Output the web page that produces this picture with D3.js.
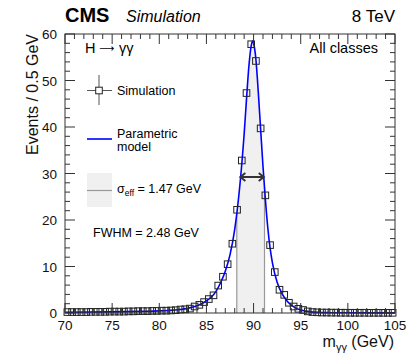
<!DOCTYPE html>
<html><head><meta charset="utf-8">
<script src="https://cdn.jsdelivr.net/npm/d3@7"></script>
<style>
html,body{margin:0;padding:0;background:#fff;}
svg text{font-family:"Liberation Sans",Arial,Helvetica,sans-serif;}
</style></head>
<body><svg id="c" width="407" height="360"></svg>
<script>
// ---------- data ----------
const binCenters = [70.25,70.75,71.25,71.75,72.25,72.75,73.25,73.75,74.25,74.75,
  75.25,75.75,76.25,76.75,77.25,77.75,78.25,78.75,79.25,79.75,
  80.25,80.75,81.25,81.75,82.25,82.75,83.25,83.75,84.25,84.75,
  85.25,85.75,86.25,86.75,87.25,87.75,88.25,88.75,89.25,89.75,
  90.25,90.75,91.25,91.75,92.25,92.75,93.25,93.75,94.25,94.75,
  95.25,95.75,96.25,96.75,97.25,97.75,98.25,98.75,99.25,99.75,
  100.25,100.75,101.25,101.75,102.25,102.75,103.25,103.75,104.25,104.75];
const simEvents = [0.2,0.2,0.2,0.2,0.2,0.25,0.25,0.25,0.25,0.3,
  0.3,0.3,0.3,0.35,0.35,0.4,0.4,0.4,0.45,0.45,
  0.5,0.5,0.55,0.6,0.75,0.8,0.95,1.4,1.75,2.35,
  3.0,3.8,5.9,7.8,10.5,14.9,22.2,32.8,47.3,57.8,
  54.2,39.7,25.3,14.6,8.8,5.0,3.9,2.2,1.4,0.9,
  0.65,0.35,0.2,0.15,0.1,0.1,0.08,0.08,0.06,0.06,
  0.05,0.05,0.05,0.05,0.04,0.04,0.04,0.04,0.04,0.04];
const modelMass =   [70,75,78,80,81,82,83,84,84.5,85,85.5,86,86.5,87,87.5,88,88.5,89,89.25,89.5,89.75,89.9,90.0,90.25,90.5,90.75,91.0,91.25,91.5,91.75,92.0,92.5,93,93.5,94,94.5,95,95.5,96,97,98,100,105];
const modelEvents = [0.15,0.25,0.35,0.45,0.55,0.7,1.0,1.55,2.0,2.6,3.4,4.6,6.5,9.0,12.5,18.0,26.5,38.5,46.0,53.0,57.5,58.5,58.0,54.5,47.5,39.5,31.5,24.5,18.5,14.0,10.8,6.6,4.2,2.7,1.7,1.05,0.65,0.4,0.25,0.12,0.07,0.04,0.02];
const sigmaEffRange = [88.22, 91.16];
const fwhmRange = [88.6, 91.08];
const halfMax = 29.25;
const xTicks = [70,75,80,85,90,95,100,105];
const yTicks = [0,10,20,30,40,50,60];

// ---------- layout ----------
const svg = d3.select("#c");
const L=65, R=395, T=34, B=313;
const x = d3.scaleLinear().domain([70,105]).range([L,R]);
const y = d3.scaleLinear().domain([0,60]).range([B,T]);
const axisCol = "#333";

// sigma_eff band (filled under curve)
const curvePts = modelMass.map((m,i)=>[m,modelEvents[i]]);
const area = d3.area().x(d=>x(d[0])).y0(y(0)).y1(d=>y(d[1])).curve(d3.curveMonotoneX);
const line = d3.line().x(d=>x(d[0])).y(d=>y(d[1])).curve(d3.curveMonotoneX);
svg.append("clipPath").attr("id","under").append("path").attr("d",area(curvePts));
const band = svg.append("g").attr("clip-path","url(#under)");
band.append("rect").attr("x",x(sigmaEffRange[0])).attr("y",T).attr("width",x(sigmaEffRange[1])-x(sigmaEffRange[0])).attr("height",B-T).attr("fill","#f0f0f0");
sigmaEffRange.forEach(v=>band.append("line").attr("x1",x(v)).attr("x2",x(v)).attr("y1",T).attr("y2",B).attr("stroke","#999").attr("stroke-width",1.2));

// model curve
svg.append("path").attr("d",line(curvePts)).attr("fill","none").attr("stroke","#0000ff").attr("stroke-width",1.6);

// FWHM arrow
const ay = y(halfMax), ax1 = x(fwhmRange[0]), ax2 = x(fwhmRange[1]);
const ag = svg.append("g").attr("stroke","#333").attr("stroke-width",2).attr("fill","none");
ag.append("line").attr("x1",ax1).attr("x2",ax2).attr("y1",ay).attr("y2",ay);
ag.append("path").attr("d",`M${ax1+5},${ay-4}L${ax1},${ay}L${ax1+5},${ay+4}`);
ag.append("path").attr("d",`M${ax2-5},${ay-4}L${ax2},${ay}L${ax2-5},${ay+4}`);

// simulation points
svg.append("g").selectAll("rect").data(binCenters).join("rect")
  .attr("x",(d)=>x(d)-3.3).attr("y",(d,i)=>y(simEvents[i])-3.3)
  .attr("width",6.6).attr("height",6.6)
  .attr("fill","none").attr("stroke","#222").attr("stroke-width",1);

// ---------- frame & ticks ----------
const fr = svg.append("g").attr("stroke",axisCol).attr("stroke-width",1);
fr.append("rect").attr("x",L).attr("y",T).attr("width",R-L).attr("height",B-T).attr("fill","none");
const xMinor = d3.range(70,106,1), yMinor = d3.range(0,61,2);
xMinor.forEach(v=>{
  const major = xTicks.includes(v), len = major?10:5;
  fr.append("line").attr("x1",x(v)).attr("x2",x(v)).attr("y1",B).attr("y2",B-len);
  fr.append("line").attr("x1",x(v)).attr("x2",x(v)).attr("y1",T).attr("y2",T+len);
});
yMinor.forEach(v=>{
  const major = yTicks.includes(v), len = major?10:5;
  fr.append("line").attr("x1",L).attr("x2",L+len).attr("y1",y(v)).attr("y2",y(v));
  fr.append("line").attr("x1",R).attr("x2",R-len).attr("y1",y(v)).attr("y2",y(v));
});

// tick labels
svg.append("g").selectAll("text").data(xTicks).join("text")
  .attr("x",d=>x(d)).attr("y",330).attr("text-anchor","middle").attr("font-size",13.5).attr("fill","#111").text(d=>d);
svg.append("g").selectAll("text").data(yTicks).join("text")
  .attr("x",57).attr("y",d=>y(d)+5).attr("text-anchor","end").attr("font-size",13.5).attr("fill","#111").text(d=>d);

// axis titles
svg.append("text").attr("transform",`translate(38,${T}) rotate(-90)`).attr("text-anchor","end").attr("font-size",16).attr("fill","#111").text("Events / 0.5 GeV");
const xt = svg.append("text").attr("x",394).attr("y",347).attr("text-anchor","end").attr("font-size",16).attr("fill","#111");
xt.append("tspan").text("m");
xt.append("tspan").attr("font-size",11).attr("dy",4).text("γγ");
xt.append("tspan").attr("dy",-4).text("\u00a0(GeV)");

// header
svg.append("text").attr("x",65).attr("y",22).attr("font-size",20).attr("font-weight","bold").attr("fill","#000").text("CMS");
svg.append("text").attr("x",126).attr("y",22).attr("font-size",16).attr("font-style","italic").attr("fill","#000").text("Simulation");
svg.append("text").attr("x",395).attr("y",22).attr("text-anchor","end").attr("font-size",17).attr("fill","#000").text("8 TeV");

// in-plot labels
svg.append("text").attr("x",85).attr("y",53).attr("font-size",14.5).attr("fill","#000").text("H");
svg.append("text").attr("x",99).attr("y",51.5).attr("font-size",10.5).attr("fill","#000").style("font-family","'DejaVu Sans'").text("⟶");
svg.append("text").attr("x",119).attr("y",53).attr("font-size",14.5).attr("fill","#000").text("γγ");
svg.append("text").attr("x",378).attr("y",53).attr("text-anchor","end").attr("font-size",14.5).attr("fill","#000").text("All classes");

// legend
const lg = svg.append("g");
lg.append("line").attr("x1",99).attr("x2",99).attr("y1",75).attr("y2",105).attr("stroke","#555");
lg.append("line").attr("x1",87).attr("x2",112).attr("y1",90.5).attr("y2",90.5).attr("stroke","#555");
lg.append("rect").attr("x",95.7).attr("y",87.2).attr("width",6.6).attr("height",6.6).attr("fill","#fff").attr("stroke","#222");
lg.append("text").attr("x",117).attr("y",95).attr("font-size",12.5).text("Simulation");
lg.append("line").attr("x1",87).attr("x2",112).attr("y1",139).attr("y2",139).attr("stroke","#0000ff").attr("stroke-width",1.6);
lg.append("text").attr("x",117).attr("y",138).attr("font-size",12.5).text("Parametric");
lg.append("text").attr("x",117).attr("y",151).attr("font-size",12.5).text("model");
lg.append("rect").attr("x",87).attr("y",173).attr("width",25).attr("height",34).attr("fill","#f0f0f0");
lg.append("line").attr("x1",87).attr("x2",112).attr("y1",190.5).attr("y2",190.5).attr("stroke","#999").attr("stroke-width",1.2);
const st = lg.append("text").attr("x",117).attr("y",193).attr("font-size",12.5);
st.append("tspan").text("σ");
st.append("tspan").attr("font-size",8.5).attr("dy",3).text("eff");
st.append("tspan").attr("dy",-3).text("\u00a0= 1.47 GeV");
lg.append("text").attr("x",93).attr("y",237).attr("font-size",12.5).text("FWHM = 2.48 GeV");
</script></body></html>
